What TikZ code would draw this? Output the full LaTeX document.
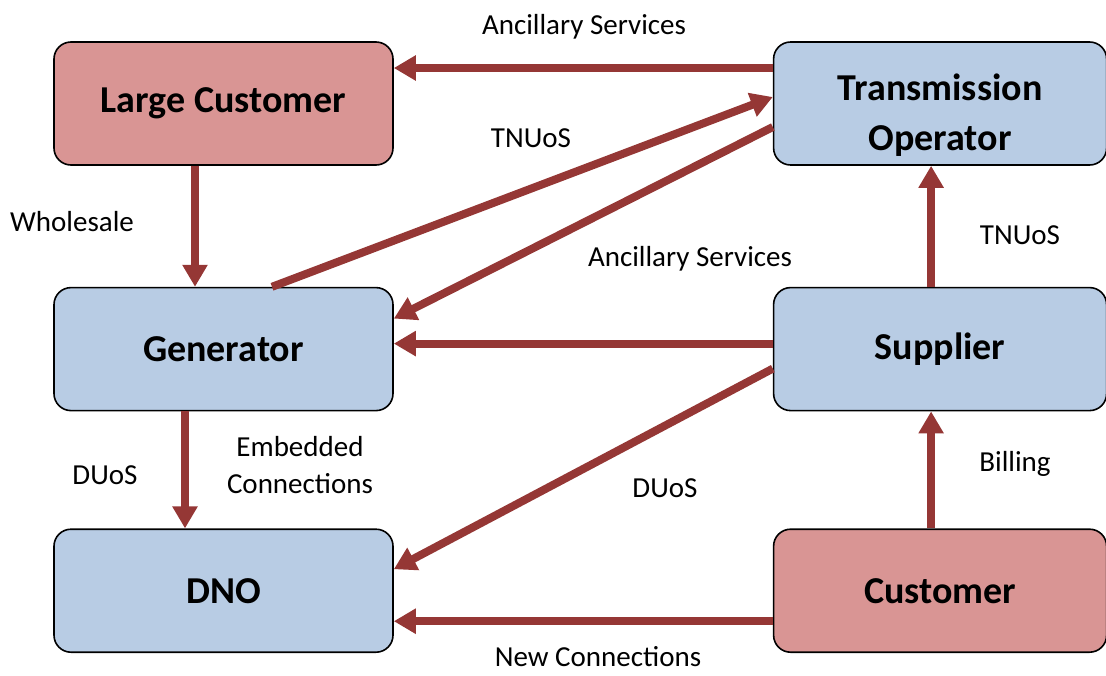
\documentclass[tikz,border=0pt]{standalone}
\usepackage{fontspec}
\setmainfont{Carlito}
\usetikzlibrary{positioning,arrows.meta}

\definecolor{boxpink}{HTML}{D99594}
\definecolor{boxblue}{HTML}{B8CCE4}
\definecolor{flowred}{HTML}{953735}

\tikzset{
	party/.style={draw=black, line width=1.6pt, rounded corners=17pt,
		minimum width=339pt, minimum height=123pt, align=center,
		font=\fontsize{38}{50}\selectfont\bfseries},
	payer/.style={party, fill=boxpink},
	body/.style={party, fill=boxblue},
	flow/.style={draw=flowred, line width=8pt, -{Triangle[length=22pt,width=24pt]}},
	tag/.style={font=\fontsize{29}{37}\selectfont, align=center, inner sep=1pt}
}

\begin{document}
\begin{tikzpicture}[x=1pt,y=-1pt]
	\useasboundingbox (0,0) rectangle (1106,675);
	% parties
	\node[payer] (lc) at (223.5,103.5) {Large Customer};
	\node[body, right=379pt of lc, minimum width=333pt] (to) {\rule{0pt}{50pt}Transmission\\Operator};
	\node[body, below=121pt of lc] (gen) {Generator};
	\node[body, below=117pt of gen] (dno) {DNO};
	\node[body, below=121pt of to, minimum width=333pt] (sup) {Supplier};
	\node[payer, below=117pt of sup, minimum width=333pt] (cus) {Customer};

	% money flows
	\draw[flow] ([yshift=35.5pt]to.west) -- ([yshift=35.5pt]lc.east);
	\draw[flow] ([xshift=48.5pt]gen.north) -- ([yshift=6.5pt]to.west);
	\draw[flow] ([yshift=-23.5pt]to.west) -- ([yshift=30.5pt]gen.east);
	\draw[flow] ([yshift=5.5pt]sup.west) -- ([yshift=5.5pt]gen.east);
	\draw[flow] ([yshift=-19.5pt]sup.west) -- ([yshift=21.5pt]dno.east);
	\draw[flow] ([yshift=-30.5pt]cus.west) -- ([yshift=-30.5pt]dno.east);
	\draw[flow] ([xshift=-28.5pt]lc.south) -- ([xshift=-28.5pt]gen.north);
	\draw[flow] ([xshift=-38.5pt]gen.south) -- ([xshift=-38.5pt]dno.north);
	\draw[flow] ([xshift=-9pt]sup.north) -- ([xshift=-9pt]to.south);
	\draw[flow] ([xshift=-9pt]cus.north) -- ([xshift=-9pt]sup.south);

	% labels
	\node[tag] (t-anc1) at (584,27) {Ancillary Services};
	\node[tag] (t-tnu1) at (531,138) {TNUoS};
	\node[tag] (t-whs) at (72,222) {Wholesale};
	\node[tag] (t-anc2) at (690,259) {Ancillary Services};
	\node[tag] (t-tnu2) at (1020,235) {TNUoS};
	\node[tag] (t-duo1) at (105,475) {DUoS};
	\node[tag] (t-emb) at (300,465) {Embedded\\Connections};
	\node[tag] (t-duo2) at (665,488) {DUoS};
	\node[tag] (t-bil) at (1015,464) {Billing};
	\node[tag, anchor=base, inner sep=0pt, text depth=0pt] (t-new) at (598,666) {New Connections};
\end{tikzpicture}
\end{document}
